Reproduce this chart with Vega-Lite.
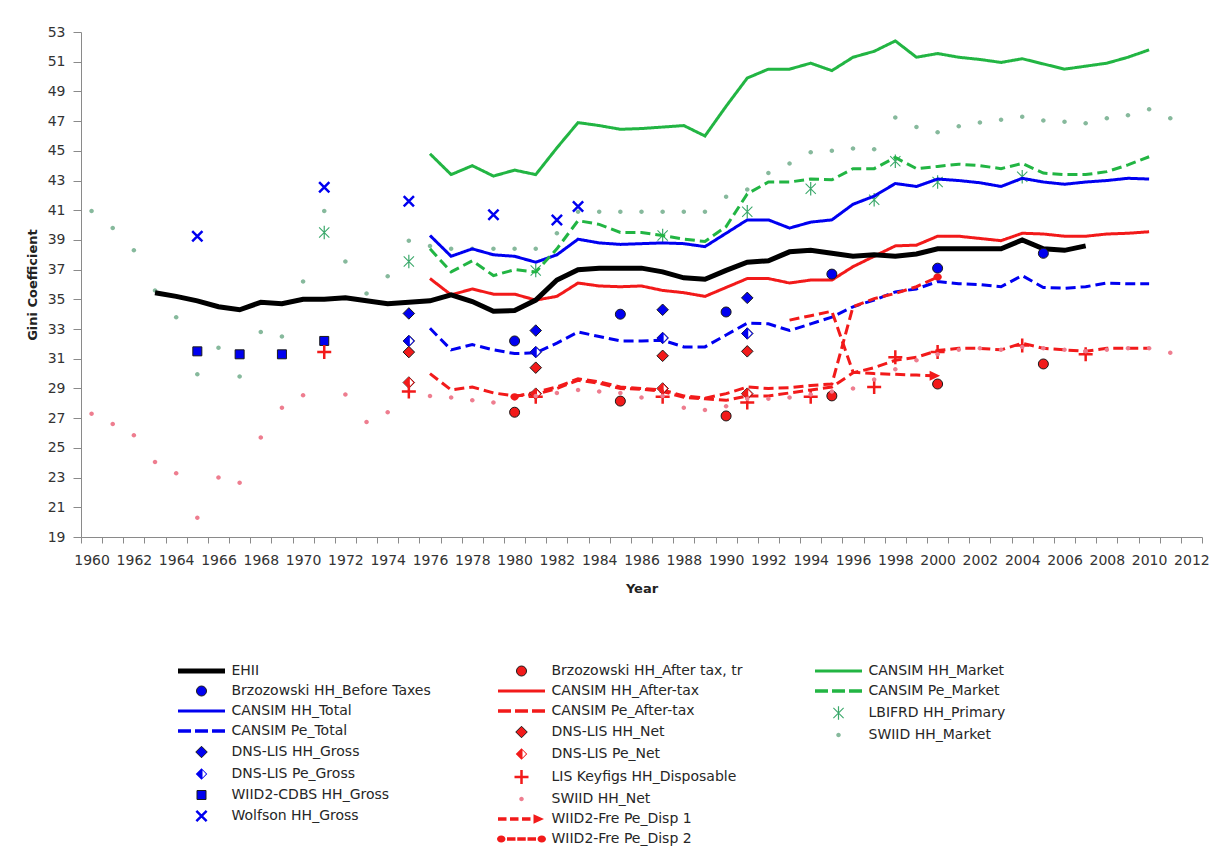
{
  "$schema": "https://vega.github.io/schema/vega-lite/v6.json",
  "width": 1121,
  "height": 505,
  "autosize": {"type": "none"},
  "padding": {"left": 81, "top": 32, "right": 16, "bottom": 319},
  "background": "white",
  "config": {
    "view": {"stroke": null},
    "font": "DejaVu Sans",
    "axis": {"grid": false, "domainColor": "#8a8a8a", "tickColor": "#8a8a8a", "labelColor": "#333333", "labelFont": "DejaVu Sans", "labelFontSize": 14, "titleFont": "DejaVu Sans", "titleFontSize": 13, "titleFontWeight": "bold", "titleColor": "#222222", "labelFlush": false, "labelOverlap": false},
    "legend": {"orient": "none", "title": null, "direction": "vertical", "columns": 1, "symbolSize": 100, "symbolStrokeWidth": 1, "symbolOffset": 16.5, "labelOffset": 23, "labelFontSize": 14, "labelFont": "DejaVu Sans", "labelColor": "#262626", "labelLimit": 400, "rowPadding": 6, "padding": 0, "symbolOpacity": 1}
  },
  "datasets": {
    "d": [
      {"s":"EHII","x":1963,"y":35.45},{"s":"EHII","x":1964,"y":35.2},{"s":"EHII","x":1965,"y":34.9},{"s":"EHII","x":1966,"y":34.5},{"s":"EHII","x":1967,"y":34.3},{"s":"EHII","x":1968,"y":34.8},{"s":"EHII","x":1969,"y":34.7},{"s":"EHII","x":1970,"y":35.0},{"s":"EHII","x":1971,"y":35.0},{"s":"EHII","x":1972,"y":35.1},{"s":"EHII","x":1973,"y":34.9},{"s":"EHII","x":1974,"y":34.7},{"s":"EHII","x":1975,"y":34.8},{"s":"EHII","x":1976,"y":34.9},{"s":"EHII","x":1977,"y":35.3},{"s":"EHII","x":1978,"y":34.85},{"s":"EHII","x":1979,"y":34.2},{"s":"EHII","x":1980,"y":34.25},{"s":"EHII","x":1981,"y":34.95},{"s":"EHII","x":1982,"y":36.3},{"s":"EHII","x":1983,"y":37.0},{"s":"EHII","x":1984,"y":37.1},{"s":"EHII","x":1985,"y":37.1},{"s":"EHII","x":1986,"y":37.1},{"s":"EHII","x":1987,"y":36.85},{"s":"EHII","x":1988,"y":36.45},{"s":"EHII","x":1989,"y":36.35},{"s":"EHII","x":1990,"y":36.95},{"s":"EHII","x":1991,"y":37.5},{"s":"EHII","x":1992,"y":37.6},{"s":"EHII","x":1993,"y":38.2},{"s":"EHII","x":1994,"y":38.3},{"s":"EHII","x":1995,"y":38.1},{"s":"EHII","x":1996,"y":37.9},{"s":"EHII","x":1997,"y":38.0},{"s":"EHII","x":1998,"y":37.9},{"s":"EHII","x":1999,"y":38.05},{"s":"EHII","x":2000,"y":38.4},{"s":"EHII","x":2001,"y":38.4},{"s":"EHII","x":2002,"y":38.4},{"s":"EHII","x":2003,"y":38.4},{"s":"EHII","x":2004,"y":39.0},{"s":"EHII","x":2005,"y":38.4},{"s":"EHII","x":2006,"y":38.3},{"s":"EHII","x":2007,"y":38.6},

      {"s":"CANSIM HH_Market","x":1976,"y":44.8},{"s":"CANSIM HH_Market","x":1977,"y":43.4},{"s":"CANSIM HH_Market","x":1978,"y":44.0},{"s":"CANSIM HH_Market","x":1979,"y":43.3},{"s":"CANSIM HH_Market","x":1980,"y":43.7},{"s":"CANSIM HH_Market","x":1981,"y":43.4},{"s":"CANSIM HH_Market","x":1982,"y":45.2},{"s":"CANSIM HH_Market","x":1983,"y":46.9},{"s":"CANSIM HH_Market","x":1984,"y":46.7},{"s":"CANSIM HH_Market","x":1985,"y":46.45},{"s":"CANSIM HH_Market","x":1986,"y":46.5},{"s":"CANSIM HH_Market","x":1987,"y":46.6},{"s":"CANSIM HH_Market","x":1988,"y":46.7},{"s":"CANSIM HH_Market","x":1989,"y":46.0},{"s":"CANSIM HH_Market","x":1990,"y":48.0},{"s":"CANSIM HH_Market","x":1991,"y":49.9},{"s":"CANSIM HH_Market","x":1992,"y":50.5},{"s":"CANSIM HH_Market","x":1993,"y":50.5},{"s":"CANSIM HH_Market","x":1994,"y":50.9},{"s":"CANSIM HH_Market","x":1995,"y":50.4},{"s":"CANSIM HH_Market","x":1996,"y":51.3},{"s":"CANSIM HH_Market","x":1997,"y":51.7},{"s":"CANSIM HH_Market","x":1998,"y":52.4},{"s":"CANSIM HH_Market","x":1999,"y":51.3},{"s":"CANSIM HH_Market","x":2000,"y":51.55},{"s":"CANSIM HH_Market","x":2001,"y":51.3},{"s":"CANSIM HH_Market","x":2002,"y":51.15},{"s":"CANSIM HH_Market","x":2003,"y":50.95},{"s":"CANSIM HH_Market","x":2004,"y":51.2},{"s":"CANSIM HH_Market","x":2005,"y":50.85},{"s":"CANSIM HH_Market","x":2006,"y":50.5},{"s":"CANSIM HH_Market","x":2007,"y":50.7},{"s":"CANSIM HH_Market","x":2008,"y":50.9},{"s":"CANSIM HH_Market","x":2009,"y":51.3},{"s":"CANSIM HH_Market","x":2010,"y":51.8},

      {"s":"CANSIM HH_Total","x":1976,"y":39.3},{"s":"CANSIM HH_Total","x":1977,"y":37.9},{"s":"CANSIM HH_Total","x":1978,"y":38.4},{"s":"CANSIM HH_Total","x":1979,"y":38.0},{"s":"CANSIM HH_Total","x":1980,"y":37.9},{"s":"CANSIM HH_Total","x":1981,"y":37.5},{"s":"CANSIM HH_Total","x":1982,"y":38.0},{"s":"CANSIM HH_Total","x":1983,"y":39.05},{"s":"CANSIM HH_Total","x":1984,"y":38.8},{"s":"CANSIM HH_Total","x":1985,"y":38.7},{"s":"CANSIM HH_Total","x":1986,"y":38.75},{"s":"CANSIM HH_Total","x":1987,"y":38.8},{"s":"CANSIM HH_Total","x":1988,"y":38.75},{"s":"CANSIM HH_Total","x":1989,"y":38.55},{"s":"CANSIM HH_Total","x":1990,"y":39.45},{"s":"CANSIM HH_Total","x":1991,"y":40.35},{"s":"CANSIM HH_Total","x":1992,"y":40.35},{"s":"CANSIM HH_Total","x":1993,"y":39.8},{"s":"CANSIM HH_Total","x":1994,"y":40.2},{"s":"CANSIM HH_Total","x":1995,"y":40.35},{"s":"CANSIM HH_Total","x":1996,"y":41.4},{"s":"CANSIM HH_Total","x":1997,"y":41.95},{"s":"CANSIM HH_Total","x":1998,"y":42.8},{"s":"CANSIM HH_Total","x":1999,"y":42.6},{"s":"CANSIM HH_Total","x":2000,"y":43.1},{"s":"CANSIM HH_Total","x":2001,"y":43.0},{"s":"CANSIM HH_Total","x":2002,"y":42.85},{"s":"CANSIM HH_Total","x":2003,"y":42.6},{"s":"CANSIM HH_Total","x":2004,"y":43.15},{"s":"CANSIM HH_Total","x":2005,"y":42.9},{"s":"CANSIM HH_Total","x":2006,"y":42.75},{"s":"CANSIM HH_Total","x":2007,"y":42.9},{"s":"CANSIM HH_Total","x":2008,"y":43.0},{"s":"CANSIM HH_Total","x":2009,"y":43.15},{"s":"CANSIM HH_Total","x":2010,"y":43.1},

      {"s":"CANSIM Pe_Market","x":1976,"y":38.4},{"s":"CANSIM Pe_Market","x":1977,"y":36.85},{"s":"CANSIM Pe_Market","x":1978,"y":37.6},{"s":"CANSIM Pe_Market","x":1979,"y":36.6},{"s":"CANSIM Pe_Market","x":1980,"y":37.0},{"s":"CANSIM Pe_Market","x":1981,"y":36.85},{"s":"CANSIM Pe_Market","x":1982,"y":38.4},{"s":"CANSIM Pe_Market","x":1983,"y":40.3},{"s":"CANSIM Pe_Market","x":1984,"y":40.05},{"s":"CANSIM Pe_Market","x":1985,"y":39.5},{"s":"CANSIM Pe_Market","x":1986,"y":39.5},{"s":"CANSIM Pe_Market","x":1987,"y":39.3},{"s":"CANSIM Pe_Market","x":1988,"y":39.05},{"s":"CANSIM Pe_Market","x":1989,"y":38.9},{"s":"CANSIM Pe_Market","x":1990,"y":39.9},{"s":"CANSIM Pe_Market","x":1991,"y":42.1},{"s":"CANSIM Pe_Market","x":1992,"y":42.9},{"s":"CANSIM Pe_Market","x":1993,"y":42.9},{"s":"CANSIM Pe_Market","x":1994,"y":43.1},{"s":"CANSIM Pe_Market","x":1995,"y":43.05},{"s":"CANSIM Pe_Market","x":1996,"y":43.8},{"s":"CANSIM Pe_Market","x":1997,"y":43.8},{"s":"CANSIM Pe_Market","x":1998,"y":44.55},{"s":"CANSIM Pe_Market","x":1999,"y":43.8},{"s":"CANSIM Pe_Market","x":2000,"y":43.95},{"s":"CANSIM Pe_Market","x":2001,"y":44.1},{"s":"CANSIM Pe_Market","x":2002,"y":44.0},{"s":"CANSIM Pe_Market","x":2003,"y":43.8},{"s":"CANSIM Pe_Market","x":2004,"y":44.15},{"s":"CANSIM Pe_Market","x":2005,"y":43.5},{"s":"CANSIM Pe_Market","x":2006,"y":43.4},{"s":"CANSIM Pe_Market","x":2007,"y":43.4},{"s":"CANSIM Pe_Market","x":2008,"y":43.6},{"s":"CANSIM Pe_Market","x":2009,"y":44.05},{"s":"CANSIM Pe_Market","x":2010,"y":44.6},

      {"s":"CANSIM HH_After-tax","x":1976,"y":36.4},{"s":"CANSIM HH_After-tax","x":1977,"y":35.3},{"s":"CANSIM HH_After-tax","x":1978,"y":35.7},{"s":"CANSIM HH_After-tax","x":1979,"y":35.35},{"s":"CANSIM HH_After-tax","x":1980,"y":35.35},{"s":"CANSIM HH_After-tax","x":1981,"y":34.95},{"s":"CANSIM HH_After-tax","x":1982,"y":35.2},{"s":"CANSIM HH_After-tax","x":1983,"y":36.1},{"s":"CANSIM HH_After-tax","x":1984,"y":35.9},{"s":"CANSIM HH_After-tax","x":1985,"y":35.85},{"s":"CANSIM HH_After-tax","x":1986,"y":35.9},{"s":"CANSIM HH_After-tax","x":1987,"y":35.6},{"s":"CANSIM HH_After-tax","x":1988,"y":35.45},{"s":"CANSIM HH_After-tax","x":1989,"y":35.2},{"s":"CANSIM HH_After-tax","x":1990,"y":35.8},{"s":"CANSIM HH_After-tax","x":1991,"y":36.4},{"s":"CANSIM HH_After-tax","x":1992,"y":36.4},{"s":"CANSIM HH_After-tax","x":1993,"y":36.1},{"s":"CANSIM HH_After-tax","x":1994,"y":36.3},{"s":"CANSIM HH_After-tax","x":1995,"y":36.3},{"s":"CANSIM HH_After-tax","x":1996,"y":37.2},{"s":"CANSIM HH_After-tax","x":1997,"y":37.9},{"s":"CANSIM HH_After-tax","x":1998,"y":38.6},{"s":"CANSIM HH_After-tax","x":1999,"y":38.65},{"s":"CANSIM HH_After-tax","x":2000,"y":39.25},{"s":"CANSIM HH_After-tax","x":2001,"y":39.25},{"s":"CANSIM HH_After-tax","x":2002,"y":39.1},{"s":"CANSIM HH_After-tax","x":2003,"y":38.95},{"s":"CANSIM HH_After-tax","x":2004,"y":39.45},{"s":"CANSIM HH_After-tax","x":2005,"y":39.4},{"s":"CANSIM HH_After-tax","x":2006,"y":39.25},{"s":"CANSIM HH_After-tax","x":2007,"y":39.25},{"s":"CANSIM HH_After-tax","x":2008,"y":39.4},{"s":"CANSIM HH_After-tax","x":2009,"y":39.45},{"s":"CANSIM HH_After-tax","x":2010,"y":39.55},

      {"s":"CANSIM Pe_Total","x":1976,"y":33.05},{"s":"CANSIM Pe_Total","x":1977,"y":31.6},{"s":"CANSIM Pe_Total","x":1978,"y":31.95},{"s":"CANSIM Pe_Total","x":1979,"y":31.6},{"s":"CANSIM Pe_Total","x":1980,"y":31.35},{"s":"CANSIM Pe_Total","x":1981,"y":31.4},{"s":"CANSIM Pe_Total","x":1982,"y":32.05},{"s":"CANSIM Pe_Total","x":1983,"y":32.8},{"s":"CANSIM Pe_Total","x":1984,"y":32.5},{"s":"CANSIM Pe_Total","x":1985,"y":32.2},{"s":"CANSIM Pe_Total","x":1986,"y":32.2},{"s":"CANSIM Pe_Total","x":1987,"y":32.25},{"s":"CANSIM Pe_Total","x":1988,"y":31.8},{"s":"CANSIM Pe_Total","x":1989,"y":31.8},{"s":"CANSIM Pe_Total","x":1990,"y":32.6},{"s":"CANSIM Pe_Total","x":1991,"y":33.4},{"s":"CANSIM Pe_Total","x":1992,"y":33.35},{"s":"CANSIM Pe_Total","x":1993,"y":32.9},{"s":"CANSIM Pe_Total","x":1994,"y":33.35},{"s":"CANSIM Pe_Total","x":1995,"y":33.8},{"s":"CANSIM Pe_Total","x":1996,"y":34.5},{"s":"CANSIM Pe_Total","x":1997,"y":34.95},{"s":"CANSIM Pe_Total","x":1998,"y":35.5},{"s":"CANSIM Pe_Total","x":1999,"y":35.7},{"s":"CANSIM Pe_Total","x":2000,"y":36.2},{"s":"CANSIM Pe_Total","x":2001,"y":36.05},{"s":"CANSIM Pe_Total","x":2002,"y":36.0},{"s":"CANSIM Pe_Total","x":2003,"y":35.85},{"s":"CANSIM Pe_Total","x":2004,"y":36.6},{"s":"CANSIM Pe_Total","x":2005,"y":35.8},{"s":"CANSIM Pe_Total","x":2006,"y":35.75},{"s":"CANSIM Pe_Total","x":2007,"y":35.85},{"s":"CANSIM Pe_Total","x":2008,"y":36.1},{"s":"CANSIM Pe_Total","x":2009,"y":36.05},{"s":"CANSIM Pe_Total","x":2010,"y":36.05},

      {"s":"CANSIM Pe_After-tax","x":1976,"y":30.0},{"s":"CANSIM Pe_After-tax","x":1977,"y":28.9},{"s":"CANSIM Pe_After-tax","x":1978,"y":29.1},{"s":"CANSIM Pe_After-tax","x":1979,"y":28.7},{"s":"CANSIM Pe_After-tax","x":1980,"y":28.5},{"s":"CANSIM Pe_After-tax","x":1981,"y":28.6},{"s":"CANSIM Pe_After-tax","x":1982,"y":29.0},{"s":"CANSIM Pe_After-tax","x":1983,"y":29.55},{"s":"CANSIM Pe_After-tax","x":1984,"y":29.35},{"s":"CANSIM Pe_After-tax","x":1985,"y":29.0},{"s":"CANSIM Pe_After-tax","x":1986,"y":28.95},{"s":"CANSIM Pe_After-tax","x":1987,"y":28.8},{"s":"CANSIM Pe_After-tax","x":1988,"y":28.4},{"s":"CANSIM Pe_After-tax","x":1989,"y":28.3},{"s":"CANSIM Pe_After-tax","x":1990,"y":28.2},{"s":"CANSIM Pe_After-tax","x":1991,"y":28.5},{"s":"CANSIM Pe_After-tax","x":1992,"y":28.5},{"s":"CANSIM Pe_After-tax","x":1993,"y":28.7},{"s":"CANSIM Pe_After-tax","x":1994,"y":28.9},{"s":"CANSIM Pe_After-tax","x":1995,"y":29.1},{"s":"CANSIM Pe_After-tax","x":1996,"y":30.05},{"s":"CANSIM Pe_After-tax","x":1997,"y":30.4},{"s":"CANSIM Pe_After-tax","x":1998,"y":30.9},{"s":"CANSIM Pe_After-tax","x":1999,"y":31.1},{"s":"CANSIM Pe_After-tax","x":2000,"y":31.55},{"s":"CANSIM Pe_After-tax","x":2001,"y":31.7},{"s":"CANSIM Pe_After-tax","x":2002,"y":31.7},{"s":"CANSIM Pe_After-tax","x":2003,"y":31.6},{"s":"CANSIM Pe_After-tax","x":2004,"y":32.05},{"s":"CANSIM Pe_After-tax","x":2005,"y":31.7},{"s":"CANSIM Pe_After-tax","x":2006,"y":31.6},{"s":"CANSIM Pe_After-tax","x":2007,"y":31.5},{"s":"CANSIM Pe_After-tax","x":2008,"y":31.7},{"s":"CANSIM Pe_After-tax","x":2009,"y":31.7},{"s":"CANSIM Pe_After-tax","x":2010,"y":31.7},

      {"s":"WIID2-Fre Pe_Disp 1","x":1993,"y":33.6},{"s":"WIID2-Fre Pe_Disp 1","x":1994,"y":33.9},{"s":"WIID2-Fre Pe_Disp 1","x":1995,"y":34.2},{"s":"WIID2-Fre Pe_Disp 1","x":1996,"y":30.1},{"s":"WIID2-Fre Pe_Disp 1","x":1997,"y":30.0},{"s":"WIID2-Fre Pe_Disp 1","x":1998,"y":29.95},{"s":"WIID2-Fre Pe_Disp 1","x":1999,"y":29.9},{"s":"WIID2-Fre Pe_Disp 1","x":2000,"y":29.85},

      {"s":"WIID2-Fre Pe_Disp 2","x":1980,"y":28.45},{"s":"WIID2-Fre Pe_Disp 2","x":1981,"y":28.75},{"s":"WIID2-Fre Pe_Disp 2","x":1982,"y":29.1},{"s":"WIID2-Fre Pe_Disp 2","x":1983,"y":29.65},{"s":"WIID2-Fre Pe_Disp 2","x":1984,"y":29.45},{"s":"WIID2-Fre Pe_Disp 2","x":1985,"y":29.1},{"s":"WIID2-Fre Pe_Disp 2","x":1986,"y":29.0},{"s":"WIID2-Fre Pe_Disp 2","x":1987,"y":28.9},{"s":"WIID2-Fre Pe_Disp 2","x":1988,"y":28.5},{"s":"WIID2-Fre Pe_Disp 2","x":1989,"y":28.35},{"s":"WIID2-Fre Pe_Disp 2","x":1990,"y":28.65},{"s":"WIID2-Fre Pe_Disp 2","x":1991,"y":29.1},{"s":"WIID2-Fre Pe_Disp 2","x":1992,"y":29.0},{"s":"WIID2-Fre Pe_Disp 2","x":1993,"y":29.05},{"s":"WIID2-Fre Pe_Disp 2","x":1994,"y":29.2},{"s":"WIID2-Fre Pe_Disp 2","x":1995,"y":29.3},{"s":"WIID2-Fre Pe_Disp 2","x":1996,"y":34.5},{"s":"WIID2-Fre Pe_Disp 2","x":1997,"y":35.05},{"s":"WIID2-Fre Pe_Disp 2","x":1998,"y":35.4},{"s":"WIID2-Fre Pe_Disp 2","x":1999,"y":35.85},{"s":"WIID2-Fre Pe_Disp 2","x":2000,"y":36.5},

      {"s":"Brzozowski HH_Before Taxes","x":1980,"y":32.2},{"s":"Brzozowski HH_Before Taxes","x":1985,"y":34.0},{"s":"Brzozowski HH_Before Taxes","x":1990,"y":34.15},{"s":"Brzozowski HH_Before Taxes","x":1995,"y":36.7},{"s":"Brzozowski HH_Before Taxes","x":2000,"y":37.1},{"s":"Brzozowski HH_Before Taxes","x":2005,"y":38.1},
      {"s":"Brzozowski HH_After tax, tr","x":1980,"y":27.4},{"s":"Brzozowski HH_After tax, tr","x":1985,"y":28.15},{"s":"Brzozowski HH_After tax, tr","x":1990,"y":27.15},{"s":"Brzozowski HH_After tax, tr","x":1995,"y":28.5},{"s":"Brzozowski HH_After tax, tr","x":2000,"y":29.3},{"s":"Brzozowski HH_After tax, tr","x":2005,"y":30.65},
      {"s":"DNS-LIS HH_Gross","x":1975,"y":34.05},{"s":"DNS-LIS HH_Gross","x":1981,"y":32.9},{"s":"DNS-LIS HH_Gross","x":1987,"y":34.3},{"s":"DNS-LIS HH_Gross","x":1991,"y":35.1},
      {"s":"DNS-LIS Pe_Gross","x":1975,"y":32.2},{"s":"DNS-LIS Pe_Gross","x":1981,"y":31.45},{"s":"DNS-LIS Pe_Gross","x":1987,"y":32.4},{"s":"DNS-LIS Pe_Gross","x":1991,"y":32.7},
      {"s":"DNS-LIS HH_Net","x":1975,"y":31.45},{"s":"DNS-LIS HH_Net","x":1981,"y":30.4},{"s":"DNS-LIS HH_Net","x":1987,"y":31.2},{"s":"DNS-LIS HH_Net","x":1991,"y":31.5},
      {"s":"DNS-LIS Pe_Net","x":1975,"y":29.4},{"s":"DNS-LIS Pe_Net","x":1981,"y":28.65},{"s":"DNS-LIS Pe_Net","x":1987,"y":29.0},{"s":"DNS-LIS Pe_Net","x":1991,"y":28.65},
      {"s":"LIS Keyfigs HH_Disposable","x":1971,"y":31.45},{"s":"LIS Keyfigs HH_Disposable","x":1975,"y":28.8},{"s":"LIS Keyfigs HH_Disposable","x":1981,"y":28.45},{"s":"LIS Keyfigs HH_Disposable","x":1987,"y":28.45},{"s":"LIS Keyfigs HH_Disposable","x":1991,"y":28.05},{"s":"LIS Keyfigs HH_Disposable","x":1994,"y":28.45},{"s":"LIS Keyfigs HH_Disposable","x":1997,"y":29.1},{"s":"LIS Keyfigs HH_Disposable","x":1998,"y":31.1},{"s":"LIS Keyfigs HH_Disposable","x":2000,"y":31.45},{"s":"LIS Keyfigs HH_Disposable","x":2004,"y":31.9},{"s":"LIS Keyfigs HH_Disposable","x":2007,"y":31.3},
      {"s":"WIID2-CDBS HH_Gross","x":1965,"y":31.5},{"s":"WIID2-CDBS HH_Gross","x":1967,"y":31.3},{"s":"WIID2-CDBS HH_Gross","x":1969,"y":31.3},{"s":"WIID2-CDBS HH_Gross","x":1971,"y":32.2},
      {"s":"Wolfson HH_Gross","x":1965,"y":39.25},{"s":"Wolfson HH_Gross","x":1971,"y":42.55},{"s":"Wolfson HH_Gross","x":1975,"y":41.6},{"s":"Wolfson HH_Gross","x":1979,"y":40.7},{"s":"Wolfson HH_Gross","x":1982,"y":40.35},{"s":"Wolfson HH_Gross","x":1983,"y":41.25},
      {"s":"LBIFRD HH_Primary","x":1971,"y":39.5},{"s":"LBIFRD HH_Primary","x":1975,"y":37.55},{"s":"LBIFRD HH_Primary","x":1981,"y":36.95},{"s":"LBIFRD HH_Primary","x":1987,"y":39.3},{"s":"LBIFRD HH_Primary","x":1991,"y":40.9},{"s":"LBIFRD HH_Primary","x":1994,"y":42.45},{"s":"LBIFRD HH_Primary","x":1997,"y":41.7},{"s":"LBIFRD HH_Primary","x":1998,"y":44.3},{"s":"LBIFRD HH_Primary","x":2000,"y":42.9},{"s":"LBIFRD HH_Primary","x":2004,"y":43.25},

      {"s":"SWIID HH_Market","x":1960,"y":40.95},{"s":"SWIID HH_Market","x":1961,"y":39.8},{"s":"SWIID HH_Market","x":1962,"y":38.3},{"s":"SWIID HH_Market","x":1963,"y":35.6},{"s":"SWIID HH_Market","x":1964,"y":33.8},{"s":"SWIID HH_Market","x":1965,"y":29.95},{"s":"SWIID HH_Market","x":1966,"y":31.75},{"s":"SWIID HH_Market","x":1967,"y":29.8},{"s":"SWIID HH_Market","x":1968,"y":32.8},{"s":"SWIID HH_Market","x":1969,"y":32.5},{"s":"SWIID HH_Market","x":1970,"y":36.2},{"s":"SWIID HH_Market","x":1971,"y":40.95},{"s":"SWIID HH_Market","x":1972,"y":37.55},{"s":"SWIID HH_Market","x":1973,"y":35.4},{"s":"SWIID HH_Market","x":1974,"y":36.55},{"s":"SWIID HH_Market","x":1975,"y":38.95},{"s":"SWIID HH_Market","x":1976,"y":38.6},{"s":"SWIID HH_Market","x":1977,"y":38.4},{"s":"SWIID HH_Market","x":1978,"y":38.4},{"s":"SWIID HH_Market","x":1979,"y":38.4},{"s":"SWIID HH_Market","x":1980,"y":38.4},{"s":"SWIID HH_Market","x":1981,"y":38.4},{"s":"SWIID HH_Market","x":1982,"y":39.45},{"s":"SWIID HH_Market","x":1983,"y":40.9},{"s":"SWIID HH_Market","x":1984,"y":40.9},{"s":"SWIID HH_Market","x":1985,"y":40.9},{"s":"SWIID HH_Market","x":1986,"y":40.9},{"s":"SWIID HH_Market","x":1987,"y":40.9},{"s":"SWIID HH_Market","x":1988,"y":40.9},{"s":"SWIID HH_Market","x":1989,"y":40.9},{"s":"SWIID HH_Market","x":1990,"y":41.9},{"s":"SWIID HH_Market","x":1991,"y":42.4},{"s":"SWIID HH_Market","x":1992,"y":43.5},{"s":"SWIID HH_Market","x":1993,"y":44.15},{"s":"SWIID HH_Market","x":1994,"y":44.9},{"s":"SWIID HH_Market","x":1995,"y":45.0},{"s":"SWIID HH_Market","x":1996,"y":45.15},{"s":"SWIID HH_Market","x":1997,"y":45.1},{"s":"SWIID HH_Market","x":1998,"y":47.25},{"s":"SWIID HH_Market","x":1999,"y":46.6},{"s":"SWIID HH_Market","x":2000,"y":46.25},{"s":"SWIID HH_Market","x":2001,"y":46.65},{"s":"SWIID HH_Market","x":2002,"y":46.9},{"s":"SWIID HH_Market","x":2003,"y":47.1},{"s":"SWIID HH_Market","x":2004,"y":47.3},{"s":"SWIID HH_Market","x":2005,"y":47.05},{"s":"SWIID HH_Market","x":2006,"y":46.95},{"s":"SWIID HH_Market","x":2007,"y":46.85},{"s":"SWIID HH_Market","x":2008,"y":47.2},{"s":"SWIID HH_Market","x":2009,"y":47.4},{"s":"SWIID HH_Market","x":2010,"y":47.8},{"s":"SWIID HH_Market","x":2011,"y":47.2},

      {"s":"SWIID HH_Net","x":1960,"y":27.3},{"s":"SWIID HH_Net","x":1961,"y":26.6},{"s":"SWIID HH_Net","x":1962,"y":25.85},{"s":"SWIID HH_Net","x":1963,"y":24.05},{"s":"SWIID HH_Net","x":1964,"y":23.3},{"s":"SWIID HH_Net","x":1965,"y":20.3},{"s":"SWIID HH_Net","x":1966,"y":23.0},{"s":"SWIID HH_Net","x":1967,"y":22.65},{"s":"SWIID HH_Net","x":1968,"y":25.7},{"s":"SWIID HH_Net","x":1969,"y":27.7},{"s":"SWIID HH_Net","x":1970,"y":28.55},{"s":"SWIID HH_Net","x":1972,"y":28.6},{"s":"SWIID HH_Net","x":1973,"y":26.75},{"s":"SWIID HH_Net","x":1974,"y":27.4},{"s":"SWIID HH_Net","x":1976,"y":28.5},{"s":"SWIID HH_Net","x":1977,"y":28.4},{"s":"SWIID HH_Net","x":1978,"y":28.2},{"s":"SWIID HH_Net","x":1979,"y":28.05},{"s":"SWIID HH_Net","x":1980,"y":28.3},{"s":"SWIID HH_Net","x":1981,"y":28.5},{"s":"SWIID HH_Net","x":1982,"y":28.7},{"s":"SWIID HH_Net","x":1983,"y":28.9},{"s":"SWIID HH_Net","x":1984,"y":28.8},{"s":"SWIID HH_Net","x":1985,"y":28.7},{"s":"SWIID HH_Net","x":1986,"y":28.4},{"s":"SWIID HH_Net","x":1987,"y":28.5},{"s":"SWIID HH_Net","x":1988,"y":27.7},{"s":"SWIID HH_Net","x":1989,"y":27.55},{"s":"SWIID HH_Net","x":1990,"y":27.8},{"s":"SWIID HH_Net","x":1991,"y":28.3},{"s":"SWIID HH_Net","x":1992,"y":28.3},{"s":"SWIID HH_Net","x":1993,"y":28.4},{"s":"SWIID HH_Net","x":1994,"y":28.6},{"s":"SWIID HH_Net","x":1995,"y":28.8},{"s":"SWIID HH_Net","x":1996,"y":29.0},{"s":"SWIID HH_Net","x":1997,"y":29.6},{"s":"SWIID HH_Net","x":1998,"y":30.3},{"s":"SWIID HH_Net","x":1999,"y":30.9},{"s":"SWIID HH_Net","x":2000,"y":31.3},{"s":"SWIID HH_Net","x":2001,"y":31.6},{"s":"SWIID HH_Net","x":2002,"y":31.7},{"s":"SWIID HH_Net","x":2003,"y":31.6},{"s":"SWIID HH_Net","x":2004,"y":31.8},{"s":"SWIID HH_Net","x":2005,"y":31.7},{"s":"SWIID HH_Net","x":2006,"y":31.6},{"s":"SWIID HH_Net","x":2007,"y":31.5},{"s":"SWIID HH_Net","x":2008,"y":31.6},{"s":"SWIID HH_Net","x":2009,"y":31.7},{"s":"SWIID HH_Net","x":2010,"y":31.7},{"s":"SWIID HH_Net","x":2011,"y":31.4}
    ]
  },
  "data": {"name": "d"},
  "encoding": {
    "x": {"field": "x", "type": "quantitative", "scale": {"domain": [1959.5, 2012.5], "nice": false, "zero": false},
      "axis": {"title": "Year", "values": [1959.5,1960.5,1961.5,1962.5,1963.5,1964.5,1965.5,1966.5,1967.5,1968.5,1969.5,1970.5,1971.5,1972.5,1973.5,1974.5,1975.5,1976.5,1977.5,1978.5,1979.5,1980.5,1981.5,1982.5,1983.5,1984.5,1985.5,1986.5,1987.5,1988.5,1989.5,1990.5,1991.5,1992.5,1993.5,1994.5,1995.5,1996.5,1997.5,1998.5,1999.5,2000.5,2001.5,2002.5,2003.5,2004.5,2005.5,2006.5,2007.5,2008.5,2009.5,2010.5,2011.5,2012.5],
        "labelExpr": "(datum.value + 0.5) % 2 === 0 ? format(datum.value + 0.5, 'd') : ''",
        "labelOffset": 10.575, "tickSize": 6, "labelPadding": 10, "titleX": 560.5, "titleY": 51, "titleBaseline": "middle", "titleAlign": "center"}},
    "y": {"field": "y", "type": "quantitative", "scale": {"domain": [19, 53], "nice": false, "zero": false},
      "axis": {"title": "Gini Coefficient", "values": [19,21,23,25,27,29,31,33,35,37,39,41,43,45,47,49,51,53], "tickSize": 8, "labelPadding": 8, "titleX": -49, "titleY": 252.5, "titleAngle": -90, "titleAlign": "center", "titleBaseline": "middle"}}
  },
  "layer": [
    {
      "transform": [{"filter": {"field": "s", "oneOf": ["LBIFRD HH_Primary", "SWIID HH_Market"]}}],
      "mark": {"type": "point", "filled": true, "size": 100, "strokeWidth": 1, "opacity": 1},
      "encoding": {
        "shape": {"field": "s", "type": "nominal", "scale": {"domain": ["CANSIM HH_Market", "CANSIM Pe_Market", "LBIFRD HH_Primary", "SWIID HH_Market"], "range": ["M-4.7,-0.3H4.7V0.3H-4.7Z", "M-4.7,-0.33H-2.1V0.33H-4.7Z M-1.3,-0.33H1.3V0.33H-1.3Z M2.1,-0.33H4.7V0.33H2.1Z", "M-0.12,-1.35H0.12V1.35H-0.12Z M-1.1,-0.95L-0.95,-1.1L1.1,0.95L0.95,1.1Z M0.95,-1.1L1.1,-0.95L-0.95,1.1L-1.1,0.95Z", "M-0.45,0A0.45,0.45 0 1,0 0.45,0A0.45,0.45 0 1,0 -0.45,0Z"]}, "legend": {"legendX": 734, "legendY": 632}},
        "fill": {"field": "s", "type": "nominal", "scale": {"domain": ["CANSIM HH_Market", "CANSIM Pe_Market", "LBIFRD HH_Primary", "SWIID HH_Market"], "range": ["#22b543", "#22b543", "#3aa86a", "#86b99c"]}, "legend": {"legendX": 734, "legendY": 632}},
        "stroke": {"field": "s", "type": "nominal", "scale": {"domain": ["CANSIM HH_Market", "CANSIM Pe_Market", "LBIFRD HH_Primary", "SWIID HH_Market"], "range": ["transparent", "transparent", "transparent", "transparent"]}, "legend": {"legendX": 734, "legendY": 632}}
      }
    },
    {
      "transform": [{"filter": {"field": "s", "oneOf": ["CANSIM HH_Market", "CANSIM Pe_Market", "CANSIM HH_Total", "CANSIM Pe_Total", "CANSIM Pe_After-tax", "WIID2-Fre Pe_Disp 1", "WIID2-Fre Pe_Disp 2", "CANSIM HH_After-tax"]}}],
      "mark": {"type": "line", "strokeWidth": 3},
      "encoding": {
        "color": {"field": "s", "type": "nominal", "scale": {"domain": ["CANSIM HH_Market", "CANSIM Pe_Market", "CANSIM HH_Total", "CANSIM Pe_Total", "CANSIM Pe_After-tax", "WIID2-Fre Pe_Disp 1", "WIID2-Fre Pe_Disp 2", "CANSIM HH_After-tax"], "range": ["#22b543", "#22b543", "#0000f0", "#0000f0", "#f21a1a", "#f21a1a", "#f21a1a", "#f21a1a"]}, "legend": null},
        "strokeDash": {"field": "s", "type": "nominal", "scale": {"domain": ["CANSIM HH_Market", "CANSIM Pe_Market", "CANSIM HH_Total", "CANSIM Pe_Total", "CANSIM Pe_After-tax", "WIID2-Fre Pe_Disp 1", "WIID2-Fre Pe_Disp 2", "CANSIM HH_After-tax"], "range": [[1,0], [10,5], [1,0], [10,5], [10,5], [10,5], [10,5], [1,0]]}, "legend": null}
      }
    },
    {
      "transform": [{"filter": {"field": "s", "equal": "EHII"}}],
      "mark": {"type": "line", "strokeWidth": 5, "color": "#000000"},
      "encoding": {}
    },
    {
      "transform": [{"filter": {"field": "s", "oneOf": ["DNS-LIS Pe_Gross", "DNS-LIS Pe_Net"]}}],
      "mark": {"type": "point", "filled": true, "size": 100, "shape": "M0,-1.15L1.15,0L0,1.15L-1.15,0Z", "fill": "#ffffff", "stroke": "#1a1a1a", "strokeWidth": 1, "opacity": 1},
      "encoding": {}
    },
    {
      "transform": [{"filter": {"field": "s", "oneOf": ["Brzozowski HH_Before Taxes", "DNS-LIS HH_Gross", "DNS-LIS Pe_Gross", "WIID2-CDBS HH_Gross", "Wolfson HH_Gross"]}}],
      "mark": {"type": "point", "filled": true, "size": 100, "strokeWidth": 1, "opacity": 1},
      "encoding": {
        "shape": {"field": "s", "type": "nominal", "scale": {"domain": ["EHII", "Brzozowski HH_Before Taxes", "CANSIM HH_Total", "CANSIM Pe_Total", "DNS-LIS HH_Gross", "DNS-LIS Pe_Gross", "WIID2-CDBS HH_Gross", "Wolfson HH_Gross"], "range": ["M-4.7,-0.5H4.7V0.5H-4.7Z", "circle", "M-4.7,-0.3H4.7V0.3H-4.7Z", "M-4.7,-0.33H-2.1V0.33H-4.7Z M-1.3,-0.33H1.3V0.33H-1.3Z M2.1,-0.33H4.7V0.33H2.1Z", "M0,-1.15L1.15,0L0,1.15L-1.15,0Z", "M0,-1.15L-1.15,0L0,1.15Z M0,-1.15L1.15,0L0,1.15Z M0.2,-0.75L0.2,0.75L0.9,0Z", "M-0.9,-0.9H0.9V0.9H-0.9Z", "M-1.2,-0.85L-0.85,-1.2L1.2,0.85L0.85,1.2Z M0.85,-1.2L1.2,-0.85L-0.85,1.2L-1.2,0.85Z"]}, "legend": {"legendX": 97, "legendY": 632}},
        "fill": {"field": "s", "type": "nominal", "scale": {"domain": ["EHII", "Brzozowski HH_Before Taxes", "CANSIM HH_Total", "CANSIM Pe_Total", "DNS-LIS HH_Gross", "DNS-LIS Pe_Gross", "WIID2-CDBS HH_Gross", "Wolfson HH_Gross"], "range": ["#000000", "#0000f0", "#0000f0", "#0000f0", "#0000f0", "#0000f0", "#0000f0", "#0000f0"]}, "legend": {"legendX": 97, "legendY": 632}},
        "stroke": {"field": "s", "type": "nominal", "scale": {"domain": ["EHII", "Brzozowski HH_Before Taxes", "CANSIM HH_Total", "CANSIM Pe_Total", "DNS-LIS HH_Gross", "DNS-LIS Pe_Gross", "WIID2-CDBS HH_Gross", "Wolfson HH_Gross"], "range": ["transparent", "#1a1a1a", "transparent", "transparent", "#1a1a1a", "transparent", "#1a1a1a", "transparent"]}, "legend": {"legendX": 97, "legendY": 632}}
      }
    },
    {
      "transform": [{"filter": {"field": "s", "oneOf": ["Brzozowski HH_After tax, tr", "DNS-LIS HH_Net", "DNS-LIS Pe_Net", "LIS Keyfigs HH_Disposable", "SWIID HH_Net"]}}],
      "mark": {"type": "point", "filled": true, "size": 100, "strokeWidth": 1, "opacity": 1},
      "encoding": {
        "shape": {"field": "s", "type": "nominal", "scale": {"domain": ["Brzozowski HH_After tax, tr", "CANSIM HH_After-tax", "CANSIM Pe_After-tax", "DNS-LIS HH_Net", "DNS-LIS Pe_Net", "LIS Keyfigs HH_Disposable", "SWIID HH_Net", "WIID2-Fre Pe_Disp 1", "WIID2-Fre Pe_Disp 2"], "range": ["circle", "M-4.7,-0.28H4.7V0.28H-4.7Z", "M-4.7,-0.33H-2.1V0.33H-4.7Z M-1.3,-0.33H1.3V0.33H-1.3Z M2.1,-0.33H4.7V0.33H2.1Z", "M0,-1.15L1.15,0L0,1.15L-1.15,0Z", "M0,-1.15L-1.15,0L0,1.15Z M0,-1.15L1.15,0L0,1.15Z M0.2,-0.75L0.2,0.75L0.9,0Z", "M-1.4,-0.25H-0.25V-1.4H0.25V-0.25H1.4V0.25H0.25V1.4H-0.25V0.25H-1.4Z", "M-0.45,0A0.45,0.45 0 1,0 0.45,0A0.45,0.45 0 1,0 -0.45,0Z", "M-4.7,-0.33H-3V0.33H-4.7Z M-2.3,-0.33H-0.6V0.33H-2.3Z M0.1,-0.33H1.8V0.33H0.1Z M2.4,-0.95L4.5,0L2.4,0.95Z", "M-4.9,0A0.85,0.7 0 1,0 -3.2,0A0.85,0.7 0 1,0 -4.9,0Z M3.2,0A0.85,0.7 0 1,0 4.9,0A0.85,0.7 0 1,0 3.2,0Z M-2.9,-0.33H-1.2V0.33H-2.9Z M-0.85,-0.33H0.85V0.33H-0.85Z M1.2,-0.33H2.9V0.33H1.2Z"]}, "legend": {"legendX": 417, "legendY": 632}},
        "fill": {"field": "s", "type": "nominal", "scale": {"domain": ["Brzozowski HH_After tax, tr", "CANSIM HH_After-tax", "CANSIM Pe_After-tax", "DNS-LIS HH_Net", "DNS-LIS Pe_Net", "LIS Keyfigs HH_Disposable", "SWIID HH_Net", "WIID2-Fre Pe_Disp 1", "WIID2-Fre Pe_Disp 2"], "range": ["#f21a1a", "#f21a1a", "#f21a1a", "#f21a1a", "#f21a1a", "#f21a1a", "#ee7d8f", "#f21a1a", "#f21a1a"]}, "legend": {"legendX": 417, "legendY": 632}},
        "stroke": {"field": "s", "type": "nominal", "scale": {"domain": ["Brzozowski HH_After tax, tr", "CANSIM HH_After-tax", "CANSIM Pe_After-tax", "DNS-LIS HH_Net", "DNS-LIS Pe_Net", "LIS Keyfigs HH_Disposable", "SWIID HH_Net", "WIID2-Fre Pe_Disp 1", "WIID2-Fre Pe_Disp 2"], "range": ["#1a1a1a", "transparent", "transparent", "#1a1a1a", "transparent", "transparent", "transparent", "transparent", "transparent"]}, "legend": {"legendX": 417, "legendY": 632}}
      }
    },
    {
      "transform": [{"filter": "(datum.s === 'WIID2-Fre Pe_Disp 1' && datum.x === 2000) || (datum.s === 'WIID2-Fre Pe_Disp 2' && (datum.x === 1980 || datum.x === 2000))"}],
      "mark": {"type": "point", "filled": true, "size": 100, "color": "#f21a1a", "opacity": 1},
      "encoding": {
        "shape": {"field": "s", "type": "nominal", "scale": {"domain": ["WIID2-Fre Pe_Disp 1", "WIID2-Fre Pe_Disp 2"], "range": ["M-1.6,-1L0.5,0L-1.6,1Z", "M-0.85,0A0.85,0.7 0 1,0 0.85,0A0.85,0.7 0 1,0 -0.85,0Z"]}, "legend": null}
      }
    }
  ],
  "resolve": {
    "scale": {"color": "independent", "shape": "independent", "fill": "independent", "stroke": "independent", "strokeDash": "independent"},
    "legend": {"color": "independent", "shape": "independent", "fill": "independent", "stroke": "independent", "strokeDash": "independent"}
  }
}
